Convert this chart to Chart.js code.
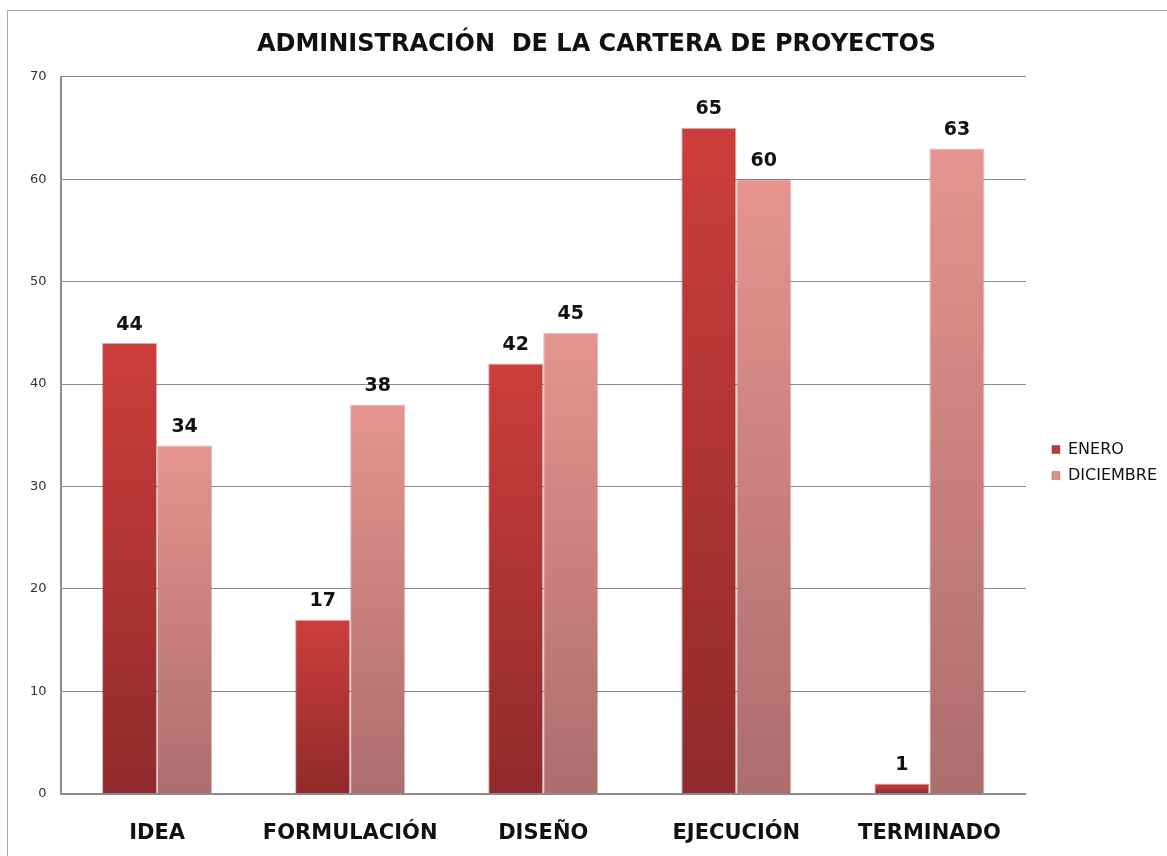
<!DOCTYPE html>
<html>
<head>
<meta charset="utf-8">
<script src="https://cdn.jsdelivr.net/npm/chart.js@4/dist/chart.umd.min.js"></script>
<style>
    body{margin:0;background:#fff;overflow:hidden;}
    #wrap{position:absolute;left:7px;top:10px;width:1165px;height:865px;border:1px solid #a6a6a6;box-sizing:border-box;}
</style>
</head>
<body>
<div id="wrap"><canvas id="carteraChart"></canvas></div>
<script>
const aCategories=["IDEA","FORMULACIÓN","DISEÑO","EJECUCIÓN","TERMINADO"];
const aEnero=[44,17,42,65,1];
const aDiciembre=[34,38,45,60,63];
const aYTicks=[0,10,20,30,40,50,60,70];

const sFont="'DejaVu Sans', sans-serif";

function barGradient(ctx, sTop, sBottom){
    const chart=ctx.chart;
    const yScale=chart.scales.y;
    if(!yScale || ctx.parsed===undefined){return sTop;}
    const yTop=yScale.getPixelForValue(ctx.raw);
    const yBase=yScale.getPixelForValue(0);
    if(!isFinite(yTop) || yTop===yBase){return sTop;}
    const g=chart.ctx.createLinearGradient(0,yTop,0,yBase);
    g.addColorStop(0,sTop);
    g.addColorStop(1,sBottom);
    return g;
}

// numbers above each bar
const valueLabels={
    id:"valueLabels",
    afterDatasetsDraw(chart){
        const c=chart.ctx;
        c.save();
        c.font="bold 19px "+sFont;
        c.fillStyle="#111";
        c.textAlign="center";
        c.textBaseline="bottom";
        chart.data.datasets.forEach((ds,i)=>{
            chart.getDatasetMeta(i).data.forEach((bar,j)=>{
                c.fillText(ds.data[j],bar.x,bar.y-9);
            });
        });
        c.restore();
    }
};

// nudge legend and title a bit, like the original
const boxShift={
    id:"boxShift",
    afterLayout(chart){
        const lg=chart.legend;
        if(lg){
            lg.left+=16; lg.right+=16;
            lg.top+=17; lg.bottom+=17;
        }
        const tb=chart.titleBlock;
        if(tb){
            tb.left+=13; tb.right+=13;
        }
    }
};

let config={
    type:"bar",
    data:{
        labels:aCategories,
        datasets:[{
            label:"ENERO",
            data:aEnero,
            backgroundColor:(ctx)=>barGradient(ctx,"#cc3e3b","#902a2c"),
            borderColor:"rgba(110,25,25,0.35)",
            borderWidth:1,
            categoryPercentage:0.57,
            barPercentage:1
        },{
            label:"DICIEMBRE",
            data:aDiciembre,
            backgroundColor:(ctx)=>barGradient(ctx,"#e6948f","#ac6d6d"),
            borderColor:"rgba(120,60,60,0.35)",
            borderWidth:1,
            categoryPercentage:0.57,
            barPercentage:1
        }]
    },
    options:{
        responsive:true,
        maintainAspectRatio:false,
        animation:false,
        layout:{
            padding:{top:6,left:8,right:20,bottom:0}
        },
        plugins:{
            title:{
                display:true,
                text:"ADMINISTRACIÓN  DE LA CARTERA DE PROYECTOS",
                color:"#111",
                font:{family:sFont,size:24,weight:"bold"},
                padding:{top:13,bottom:18}
            },
            legend:{
                display:true,
                position:"right",
                labels:{
                    boxWidth:8,
                    boxHeight:8,
                    color:"#111",
                    font:{family:sFont,size:16},
                    padding:10
                }
            },
            tooltip:{enabled:false}
        },
        scales:{
            y:{
                min:0,
                max:70,
                ticks:{
                    stepSize:10,
                    color:"#333",
                    font:{family:sFont,size:13},
                    padding:14,
                    callback:(v)=>aYTicks.includes(v)?v:""
                },
                grid:{color:"#8c8c8c",drawTicks:false},
                border:{color:"#8c8c8c",width:2}
            },
            x:{
                ticks:{
                    color:"#111",
                    font:{family:sFont,size:21,weight:"bold"},
                    padding:27.5
                },
                grid:{display:false,drawTicks:false},
                border:{color:"#8c8c8c",width:2}
            }
        }
    },
    plugins:[valueLabels,boxShift]
};

let carteraChart=new Chart(document.getElementById("carteraChart").getContext("2d"),config);
</script>
</body>
</html>
